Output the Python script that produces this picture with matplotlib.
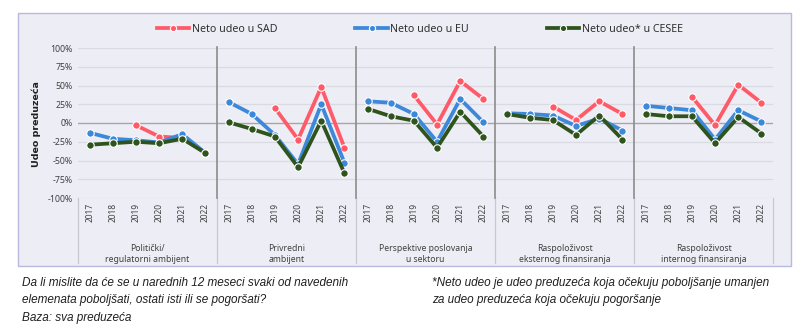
import numpy as np
import matplotlib
matplotlib.use("Agg")
import matplotlib.pyplot as plt
from matplotlib.patches import Rectangle
from matplotlib.lines import Line2D

plt.rcParams['font.family'] = ['Noto Sans', 'DejaVu Sans']

years = ["2017", "2018", "2019", "2020", "2021", "2022"]
groups = [
    "Politički/\nregulatorni ambijent",
    "Privredni\nambijent",
    "Perspektive poslovanja\nu sektoru",
    "Raspoloživost\neksternog finansiranja",
    "Raspoloživost\ninternog finansiranja",
]
nan = np.nan
# Net share (%) per group, years 2017-2022
sad = [
    [nan, nan, -3, -18, -20, -40],
    [nan, nan, 20, -22, 48, -33],
    [nan, nan, 37, -2, 56, 32],
    [nan, nan, 22, 4, 29, 12],
    [nan, nan, 35, -3, 51, 27],
]
eu = [
    [-13, -21, -23, -26, -15, -40],
    [28, 12, -16, -55, 25, -53],
    [29, 27, 12, -25, 32, 1],
    [13, 12, 10, -4, 6, -10],
    [23, 20, 17, -22, 17, 2],
]
cesee = [
    [-29, -27, -25, -27, -21, -40],
    [1, -8, -18, -59, 3, -67],
    [19, 9, 3, -33, 15, -18],
    [12, 7, 4, -16, 10, -22],
    [12, 9, 9, -27, 8, -14],
]
series_names = ["Neto udeo u SAD", "Neto udeo u EU", "Neto udeo* u CESEE"]
series_colors = ["#FF5A68", "#3C88DA", "#2F531C"]
yticks = [100, 75, 50, 25, 0, -25, -50, -75, -100]

W, H = 800, 333
fig = plt.figure(figsize=(W / 100, H / 100), dpi=100)
fig.patch.set_facecolor("white")

# chart frame drawn in a background axes
bg = fig.add_axes([0, 0, 1, 1], zorder=-5)
bg.set_xlim(0, W)
bg.set_ylim(H, 0)
bg.axis("off")
bg.add_patch(Rectangle((18, 13), 791 - 18, 266 - 13, facecolor="#EDEDF5",
                       edgecolor="#B9B9DE", linewidth=1.0))

ax_l, ax_r, ax_t, ax_b = 78, 773, 48, 198
ax = fig.add_axes([ax_l / W, 1 - ax_b / H, (ax_r - ax_l) / W, (ax_b - ax_t) / H])
ax.set_facecolor("none")
ng, ny = len(groups), len(years)
ax.set_xlim(-0.5, ng * ny - 0.5)
ax.set_ylim(-100, 100)

for v in yticks:
    if v == 0:
        ax.axhline(v, color="#A6A6A6", lw=1.0, zorder=1)
    else:
        ax.axhline(v, color="#DADAE3", lw=0.9, zorder=1)

for s in ax.spines.values():
    s.set_visible(False)

ax.set_yticks(yticks)
ax.set_yticklabels([f"{v}%" for v in yticks], fontsize=6.3, color="#404040")
ax.tick_params(axis="y", length=0, pad=4)
ax.set_xticks([])

# group separators inside the plot
for g in range(1, ng):
    ax.plot([g * ny - 0.5] * 2, [-100, 102], color="#8C8C8C", lw=1.2,
            zorder=2, clip_on=False)

all_data = [sad, eu, cesee]
for k, (data, col) in enumerate(zip(all_data, series_colors)):
    for g in range(ng):
        xs = np.arange(ny) + g * ny
        ax.plot(xs, data[g], color=col, lw=2.7, marker="o", markersize=5.4,
                markeredgecolor="white", markeredgewidth=0.8,
                zorder=3 + k, solid_capstyle="round")

# category axis below the plot
trans = ax.get_xaxis_transform()
for g in range(ng):
    for i, yr in enumerate(years):
        ax.text(g * ny + i, -0.03, yr, transform=trans, rotation=90,
                ha="center", va="top", fontsize=6.0, color="#404040")
    ax.text(g * ny + (ny - 1) / 2, -0.305, groups[g], transform=trans,
            ha="center", va="top", fontsize=6.2, color="#404040",
            linespacing=1.35)
bottom_frac = -(266 - 3 - ax_b) / (ax_b - ax_t)
for g in range(ng + 1):
    ax.plot([g * ny - 0.5] * 2, [0, bottom_frac], transform=trans,
            color="#C8C8D0", lw=0.9, clip_on=False, zorder=1)

fig.text(36 / W, 1 - 124 / H, "Udeo preduzeća", rotation=90, ha="center",
         va="center", fontsize=6.8, fontweight="bold", color="#202020",
         family=["DejaVu Sans"])

handles = [Line2D([0], [0], color=c, lw=2.7, marker="o", markersize=4.5,
                  markeredgecolor="white", markeredgewidth=0.8)
           for c in series_colors]
fig.legend(handles, series_names, loc="center", ncol=3,
           bbox_to_anchor=(0.525, 1 - 29 / H), frameon=False,
           fontsize=7.7, handlelength=3.0, handletextpad=0.25,
           columnspacing=7.3, labelcolor="#303030")

note_font = ["Liberation Sans", "DejaVu Sans"]
note_kw = dict(fontsize=8.5, style="italic", family=note_font, va="center",
               color="#202020")
fig.text(22 / W, 1 - 283 / H,
         "Da li mislite da će se u narednih 12 meseci svaki od navedenih", **note_kw)
fig.text(22 / W, 1 - 300 / H,
         "elemenata poboljšati, ostati isti ili se pogoršati?", **note_kw)
fig.text(22 / W, 1 - 318 / H, "Baza: sva preduzeća", **note_kw)
fig.text(432 / W, 1 - 283 / H,
         "*Neto udeo je udeo preduzeća koja očekuju poboljšanje umanjen", **note_kw)
fig.text(432 / W, 1 - 300 / H,
         "za udeo preduzeća koja očekuju pogoršanje", **note_kw)

fig.savefig("out.png", dpi=100, facecolor="white")
